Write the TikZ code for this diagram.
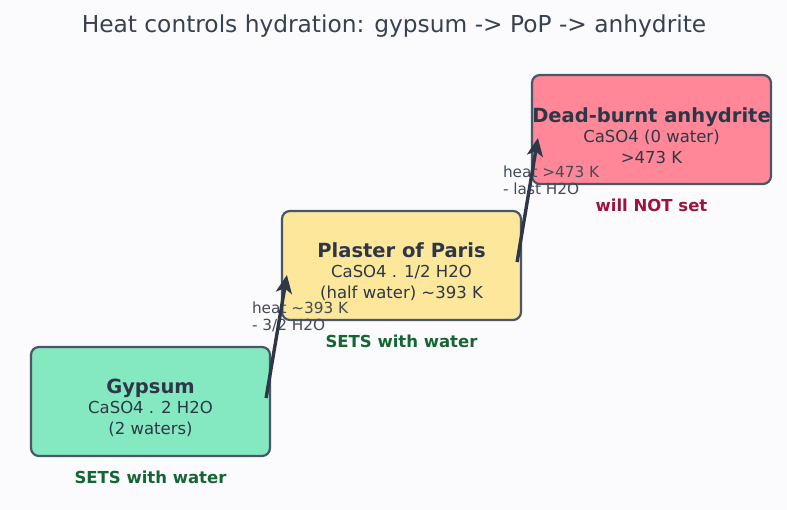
\documentclass[tikz,border=0pt]{standalone}
\usepackage{fontspec}
\setmainfont{DejaVu Sans}
\usetikzlibrary{arrows.meta,positioning}
\definecolor{bgc}{HTML}{FBFBFD}
\definecolor{ink}{HTML}{2D3748}
\definecolor{edge}{HTML}{4A5568}
\definecolor{mint}{HTML}{84E9C1}
\definecolor{sand}{HTML}{FCE79A}
\definecolor{rose}{HTML}{FF8797}
\definecolor{setgreen}{HTML}{166534}
\definecolor{noset}{HTML}{9F1239}
\tikzset{
  stage/.style={draw=edge, line width=2.2pt, rounded corners=8pt, minimum width=239pt,
    minimum height=109pt, inner xsep=0pt, align=center, text=ink,
    font=\fontsize{16.5}{20.5}\selectfont},
  verdict/.style={font=\bfseries\fontsize{16.5}{20}\selectfont, inner sep=0pt},
  flow/.style={draw=ink, line width=3.4pt, -{Stealth[length=18pt,width=16pt,inset=4.5pt]}},
  heat/.style={pos=0.66, anchor=west, xshift=-28pt, align=left, inner sep=0pt,
    text=ink!90, font=\fontsize{15.3}{17}\selectfont}
}
\newcommand{\stagename}[1]{{\bfseries\fontsize{19.5}{21}\selectfont\rule{0pt}{27pt}#1}}
\begin{document}
\begin{tikzpicture}[x=1pt,y=1pt]
\fill[bgc](0,0)rectangle(787,510);
\useasboundingbox(0,0)rectangle(787,510);
\node[text=ink!95, font=\fontsize{23.3}{26}\selectfont](title)at(394,484){Heat controls hydration: gypsum -> PoP -> anhydrite};
% the three stages
\node[stage, fill=mint](gyp)at(150.5,108.5){\stagename{Gypsum}\\CaSO4 . 2 H2O\\(2 waters)};
\node[stage, fill=sand](pop)at(401.5,244.5){\stagename{Plaster of Paris}\\CaSO4 . 1/2 H2O\\(half water) \textasciitilde393 K};
\node[stage, fill=rose](anh)at(651.5,380.5){\stagename{Dead-burnt anhydrite}\\CaSO4 (0 water)\\>473 K};
\node[verdict, text=setgreen, below=14pt of gyp](gypset){SETS with water};
\node[verdict, text=setgreen, below=14pt of pop](popset){SETS with water};
\node[verdict, text=noset, below=14pt of anh](anhset){will NOT set};
% heating steps, arrows over their labels
\coordinate(g2p)at([xshift=-5pt,yshift=3.5pt]gyp.east);
\coordinate(p2a)at([xshift=-5pt,yshift=3.5pt]pop.east);
\path(g2p)--([xshift=6pt,yshift=-9.5pt]pop.west)node[heat]{heat \textasciitilde393 K\\- 3/2 H2O};
\path(p2a)--([xshift=7pt,yshift=-8.5pt]anh.west)node[heat]{heat >473 K\\- last H2O};
\draw[flow](g2p)--([xshift=6pt,yshift=-9.5pt]pop.west);
\draw[flow](p2a)--([xshift=7pt,yshift=-8.5pt]anh.west);
\end{tikzpicture}
\end{document}
